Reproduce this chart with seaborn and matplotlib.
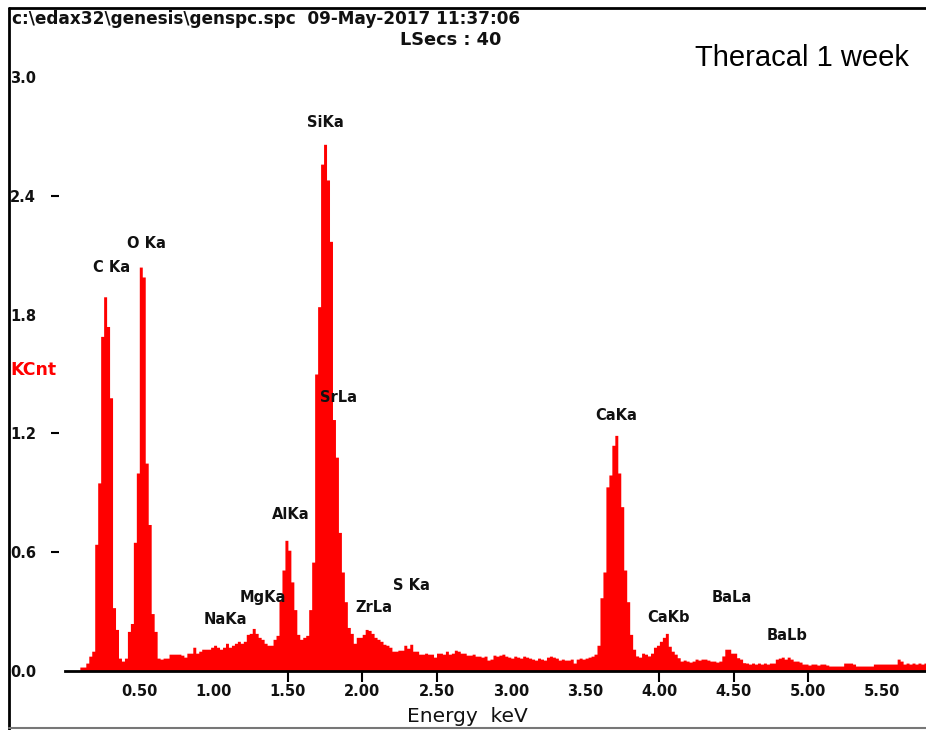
import numpy as np
import pandas as pd
import matplotlib
matplotlib.use("Agg")
import matplotlib.pyplot as plt
import seaborn as sns
from matplotlib.lines import Line2D

# ---------------- data ----------------
channel_width = 0.02  # keV per channel
counts = [
    0, 0, 0, 0, 0,
    0.02, 0.02, 0.04, 0.075, 0.10,
    0.64, 0.95, 1.69, 1.89, 1.74,
    1.38, 0.32, 0.21, 0.065, 0.05,
    0.065, 0.20, 0.24, 0.65, 1.00,
    2.04, 1.99, 1.05, 0.74, 0.29,
    0.20, 0.065, 0.06, 0.065, 0.065,
    0.085, 0.085, 0.085, 0.085, 0.08,
    0.07, 0.09, 0.09, 0.12, 0.09,
    0.10, 0.11, 0.11, 0.11, 0.12,
    0.13, 0.12, 0.11, 0.12, 0.14,
    0.12, 0.13, 0.14, 0.15, 0.14,
    0.15, 0.185, 0.19, 0.215, 0.19,
    0.17, 0.16, 0.14, 0.13, 0.13,
    0.16, 0.18, 0.36, 0.51, 0.66,
    0.61, 0.45, 0.31, 0.185, 0.16,
    0.17, 0.18, 0.31, 0.55, 1.50,
    1.84, 2.56, 2.66, 2.48, 2.17,
    1.27, 1.08, 0.70, 0.50, 0.35,
    0.22, 0.19, 0.14, 0.17, 0.17,
    0.185, 0.21, 0.205, 0.19, 0.17,
    0.16, 0.15, 0.135, 0.13, 0.12,
    0.10, 0.10, 0.105, 0.105, 0.13,
    0.115, 0.135, 0.10, 0.10, 0.085,
    0.085, 0.09, 0.085, 0.085, 0.07,
    0.09, 0.09, 0.085, 0.10, 0.085,
    0.09, 0.105, 0.10, 0.09, 0.09,
    0.08, 0.08, 0.085, 0.075, 0.075,
    0.07, 0.075, 0.055, 0.06, 0.08,
    0.075, 0.08, 0.085, 0.075, 0.07,
    0.065, 0.075, 0.07, 0.065, 0.075,
    0.07, 0.065, 0.06, 0.055, 0.065,
    0.06, 0.055, 0.07, 0.075, 0.07,
    0.065, 0.055, 0.06, 0.055, 0.055,
    0.06, 0.04, 0.06, 0.065, 0.06,
    0.065, 0.07, 0.075, 0.085, 0.13,
    0.37, 0.50, 0.93, 0.99, 1.14,
    1.19, 1.00, 0.83, 0.51, 0.35,
    0.185, 0.11, 0.076, 0.07, 0.09,
    0.085, 0.076, 0.09, 0.12, 0.13,
    0.15, 0.17, 0.19, 0.125, 0.10,
    0.085, 0.067, 0.05, 0.055, 0.05,
    0.045, 0.05, 0.06, 0.055, 0.06,
    0.06, 0.055, 0.05, 0.05, 0.045,
    0.05, 0.076, 0.11, 0.11, 0.09,
    0.09, 0.067, 0.06, 0.042, 0.04,
    0.035, 0.04, 0.035, 0.04, 0.035,
    0.04, 0.035, 0.04, 0.04, 0.06,
    0.065, 0.07, 0.06, 0.07, 0.06,
    0.05, 0.05, 0.045, 0.035, 0.035,
    0.03, 0.035, 0.035, 0.03, 0.035,
    0.035, 0.03, 0.025, 0.025, 0.025,
    0.025, 0.025, 0.04, 0.04, 0.04,
    0.035, 0.025, 0.025, 0.025, 0.025,
    0.025, 0.025, 0.035, 0.035, 0.035,
    0.035, 0.035, 0.035, 0.035, 0.035,
    0.06, 0.05, 0.035, 0.04, 0.035,
    0.04, 0.035, 0.04, 0.035, 0.04,
]

peak_names = ["C Ka", "O Ka", "SiKa", "SrLa", "AlKa", "MgKa", "NaKa",
              "ZrLa", "S Ka", "CaKa", "CaKb", "BaLa", "BaLb"]
peak_label_kev = [0.31, 0.545, 1.75, 1.84, 1.52, 1.33, 1.08,
                  2.08, 2.33, 3.71, 4.06, 4.49, 4.86]
peak_label_kcnt = [2.04, 2.16, 2.77, 1.38, 0.79, 0.37, 0.26,
                   0.32, 0.43, 1.29, 0.27, 0.37, 0.18]

xtick_vals = [0.5, 1.0, 1.5, 2.0, 2.5, 3.0, 3.5, 4.0, 4.5, 5.0, 5.5]
xtick_labels = ["0.50", "1.00", "1.50", "2.00", "2.50", "3.00",
                "3.50", "4.00", "4.50", "5.00", "5.50"]
xtick_marks = [1.5, 2.0, 2.5, 4.0, 4.5, 5.0]
ytick_vals = [0.0, 0.6, 1.2, 1.8, 2.4, 3.0]
ytick_labels = ["0.0", "0.6", "1.2", "1.8", "2.4", "3.0"]
ytick_marks = [0.6, 1.2, 2.4]

header_text = "c:\\edax32\\genesis\\genspc.spc  09-May-2017 11:37:06"
lsecs_text = "LSecs : 40"
sample_text = "Theracal 1 week"

# ---------------- figure ----------------
sns.set_theme(style="white")
plt.rcParams["font.family"] = ["DejaVu Sans"]

W, H = 926, 730
fig = plt.figure(figsize=(W / 100, H / 100), dpi=100)
fig.patch.set_facecolor("white")

ax_left, ax_right, ax_bottom_px, ax_top_px = 65, 926, 671, 77
ax = fig.add_axes([ax_left / W, (H - ax_bottom_px) / H,
                   (ax_right - ax_left) / W, (ax_bottom_px - ax_top_px) / H])
ax.set_facecolor("white")

n = len(counts)
df = pd.DataFrame({
    "energy": np.arange(n) * channel_width + channel_width / 2,
    "kcnt": counts,
})

sns.histplot(data=df, x="energy", weights="kcnt", binwidth=channel_width,
             binrange=(0, n * channel_width), element="step", fill=True,
             color="#ff0000", alpha=1, linewidth=0, ax=ax)

ax.set_xlim(0, (ax_right - ax_left) / 148.6)
ax.set_ylim(0, 3.0)
ax.set_xlabel("")
ax.set_ylabel("")

for s in ["top", "right", "left"]:
    ax.spines[s].set_visible(False)
ax.spines["bottom"].set_color("black")
ax.spines["bottom"].set_linewidth(2)
ax.spines["left"].set_position(("outward", 4))

ax.yaxis.remove_overlapping_locs = False

tick_font = dict(fontsize=10.5, fontweight="bold", color="#111111")

ax.set_xticks(xtick_vals, labels=xtick_labels, **tick_font)
ax.tick_params(axis="x", which="major", length=0, pad=9, bottom=True)
# short downward tick marks below the energy axis at selected energies
ax.vlines(xtick_marks, 0, -0.018, transform=ax.get_xaxis_transform(),
          colors="black", linewidth=1.5, clip_on=False, zorder=6)

ax.set_yticks(ytick_vals, labels=ytick_labels, **tick_font)
ax.set_yticks(ytick_marks, minor=True)
ax.tick_params(axis="y", which="major", length=0, pad=35.5, left=True)
ax.tick_params(axis="y", which="minor", length=6, width=1.5, color="black",
               direction="out", left=True)
for lbl in ax.get_yticklabels():
    lbl.set_horizontalalignment("left")
ax.grid(False)

for name, xk, yk in zip(peak_names, peak_label_kev, peak_label_kcnt):
    ax.text(xk, yk, name, ha="center", va="center", fontsize=10.5,
            fontweight="bold", color="#111111", zorder=5)


def fx(px):
    return px / W


def fy(py):
    return 1 - py / H


fig.text(fx(12), fy(19), header_text, ha="left", va="center", fontsize=12.2,
         fontweight="bold", color="#111111")
fig.text(fx(400), fy(40), lsecs_text, ha="left", va="center", fontsize=12.8,
         fontweight="bold", color="#111111")
fig.text(fx(695), fy(58), sample_text, ha="left", va="center", fontsize=21,
         family=["Liberation Sans", "DejaVu Sans"], color="black")
fig.text(fx(10), fy(370), "KCnt", ha="left", va="center", fontsize=12.5,
         fontweight="bold", color="#ff0000")
fig.text(fx(467), fy(717), "Energy  keV", ha="center", va="center",
         fontsize=14.5, color="#111111")

# frame lines
fig.add_artist(Line2D([fx(9), fx(9)], [0, fy(8)], transform=fig.transFigure,
                      color="black", lw=2))
fig.add_artist(Line2D([fx(9), 1], [fy(8), fy(8)], transform=fig.transFigure,
                      color="black", lw=2))
fig.add_artist(Line2D([fx(9), 1], [fy(728), fy(728)], transform=fig.transFigure,
                      color="#777777", lw=1.5))

fig.savefig("out.png", dpi=100)
